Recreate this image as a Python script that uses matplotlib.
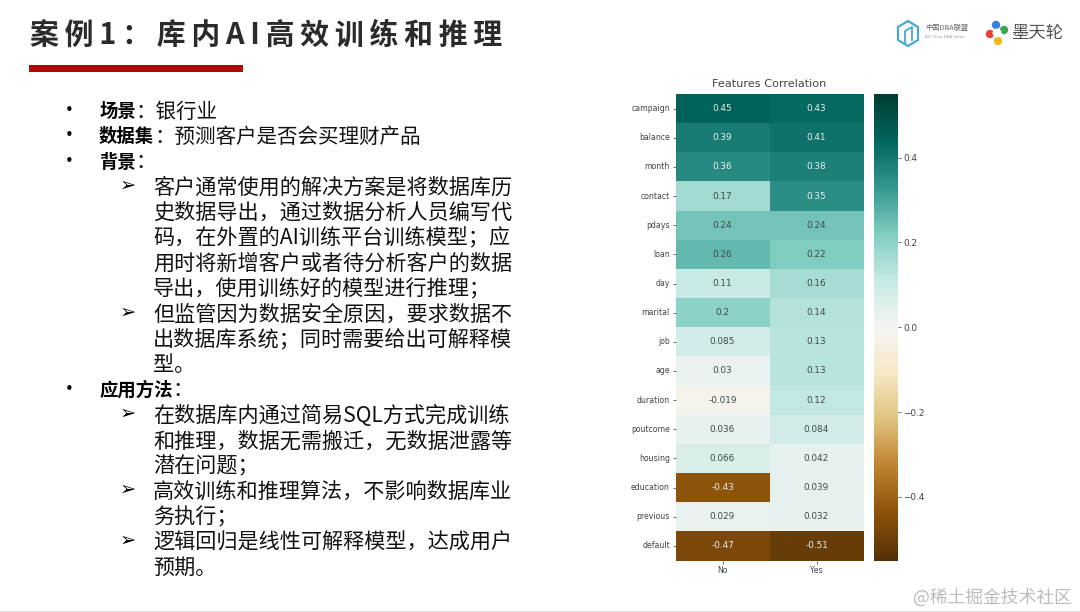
import matplotlib
matplotlib.use('Agg')
import matplotlib.pyplot as plt
from matplotlib.patches import Rectangle, Polygon, Circle
import numpy as np
import pandas as pd
import seaborn as sns

W, H = 1080, 612
CJK = ['Noto Sans CJK SC', 'DejaVu Sans']

features = ['campaign', 'balance', 'month', 'contact', 'pdays', 'loan', 'day', 'marital',
            'job', 'age', 'duration', 'poutcome', 'housing', 'education', 'previous', 'default']
corr_no = [0.45, 0.39, 0.36, 0.17, 0.24, 0.26, 0.11, 0.2,
           0.085, 0.03, -0.019, 0.036, 0.066, -0.43, 0.029, -0.47]
corr_yes = [0.43, 0.41, 0.38, 0.35, 0.24, 0.22, 0.16, 0.14,
            0.13, 0.13, 0.12, 0.084, 0.042, 0.039, 0.032, -0.51]
classes = ['No', 'Yes']
cbar_ticks = [-0.4, -0.2, 0.0, 0.2, 0.4]

title = '案\u2009例\u20091\u2009：\u2009库\u2009内\u2009A\u2009I\u2009高\u2009效\u2009训\u2009练\u2009和\u2009推\u2009理'

# (level, bold label, text), one entry per line on the slide
slide_lines = [
    (0, '场景', '：银行业'),
    (0, '数据集', '：预测客户是否会买理财产品'),
    (0, '背景', '：'),
    (1, '', '客户通常使用的解决方案是将数据库历'),
    (2, '', '史数据导出，通过数据分析人员编写代'),
    (2, '', '码，在外置的AI训练平台训练模型；应'),
    (2, '', '用时将新增客户或者待分析客户的数据'),
    (2, '', '导出，使用训练好的模型进行推理；'),
    (1, '', '但监管因为数据安全原因，要求数据不'),
    (2, '', '出数据库系统；同时需要给出可解释模'),
    (2, '', '型。'),
    (0, '应用方法', '：'),
    (1, '', '在数据库内通过简易SQL方式完成训练'),
    (2, '', '和推理，数据无需搬迁，无数据泄露等'),
    (2, '', '潜在问题；'),
    (1, '', '高效训练和推理算法，不影响数据库业'),
    (2, '', '务执行；'),
    (1, '', '逻辑回归是线性可解释模型，达成用户'),
    (2, '', '预期。'),
]

fig = plt.figure(figsize=(W / 100, H / 100), dpi=100, facecolor='white')

# slide layer in pixel coordinates, y going down
bg = fig.add_axes([0, 0, 1, 1])
bg.set_xlim(0, W)
bg.set_ylim(H, 0)
bg.axis('off')

bg.text(30, 35, title, family=CJK, fontsize=20.8, fontweight='bold', color='#2b2b2b', va='center')
bg.add_patch(Rectangle((29, 65), 214, 7, color='#ad0a0a', lw=0))

for i, (level, label, text) in enumerate(slide_lines):
    y = 111.5 + i * 25.35
    if level == 0:
        bg.text(69, y - 1, '•', family='DejaVu Sans', fontsize=10.5, color='black', ha='center', va='center')
        bg.text(99, y, label, family=CJK, fontsize=13.2, fontweight='bold', color='black', va='center')
        x_after = 99 + len(label) * 18.4
        bg.text(x_after, y, text, family=CJK, fontsize=14.8, color='#111111', va='center')
    else:
        if level == 1:
            bg.text(128, y - 2, '➢', family='DejaVu Sans', fontsize=14, fontweight='bold', color='black', ha='center', va='center')
        bg.text(153, y, text, family=CJK, fontsize=15.2, color='#111111', va='center')

# logos top right
bg.add_patch(Polygon([(898, 27), (908, 21), (918, 27), (918, 40), (908, 46), (898, 40)],
                     closed=True, fill=False, ec='#4aa8d8', lw=1.6))
bg.plot([905, 905, 912, 912], [44, 31, 27, 40], color='#4aa8d8', lw=1.3)
bg.text(925, 28, '中国DBA联盟', family=CJK, fontsize=5.2, color='#666666', va='center')
bg.text(925, 37, 'All China DBA Union', family='DejaVu Sans', fontsize=2.8, color='#999999', va='center')
for cx, cy, col in [(996, 25, '#3b7de0'), (990, 34, '#e5402f'), (1004, 30, '#3aa655'), (998, 41, '#f2b91f')]:
    bg.add_patch(Circle((cx, cy), 4.2, color=col, lw=0))
bg.add_patch(Circle((997, 33), 4.5, color='white', lw=0))
bg.text(1011, 33, '墨天轮', family=CJK, fontsize=12.5, color='#555555', va='center')

# watermark and bottom edge
bg.text(913, 597, '@稀土掘金技术社区', family=CJK, fontsize=12.8, color='#bcbcbc', va='center')
bg.add_patch(Rectangle((0, 610.5), W, 1.5, color='#e0e0e0', lw=0))

# heatmap
ax = fig.add_axes([675.5 / W, 1 - 560.5 / H, 188 / W, 466.5 / H])
cax = fig.add_axes([874 / W, 1 - 560.5 / H, 24 / W, 466.5 / H])
corr = pd.DataFrame({'No': corr_no, 'Yes': corr_yes}, index=features)[classes]
sns.heatmap(corr, ax=ax, cbar_ax=cax, cmap='BrBG', vmin=-0.55, vmax=0.55,
            annot=True, annot_kws={'fontsize': 6.4, 'family': 'DejaVu Sans'})
# annotation colours as in the original: white only on the dark cells
for t in ax.texts:
    v = abs(float(t.get_text()))
    t.set_color('#e8f0ee' if v >= 0.3 else '#3c4a48')
ax.set_title('Features Correlation', fontsize=8.1, color='#444444', pad=5)
ax.tick_params(axis='both', labelsize=5.6, length=2.5, width=0.6, pad=1.5, color='#555555', labelcolor='#444444')
ax.set_yticklabels(features, rotation=0)
cax.set_yticks(cbar_ticks)
cax.tick_params(labelsize=6.4, length=2.5, width=0.6, pad=1.5, color='#555555', labelcolor='#444444')

fig.savefig('out.png', dpi=100)
